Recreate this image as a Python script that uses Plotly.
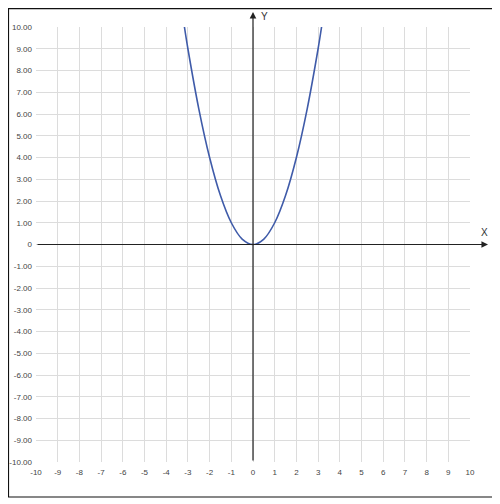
import plotly.graph_objects as go

# curve points
curve_x = [-3.16, -3.0, -2.5, -2.0, -1.5, -1.0, -0.5, 0.0, 0.5, 1.0, 1.5, 2.0, 2.5, 3.0, 3.16]
curve_y = [10.0, 9.0, 6.25, 4.0, 2.25, 1.0, 0.25, 0.0, 0.25, 1.0, 2.25, 4.0, 6.25, 9.0, 10.0]

x_ticks = list(range(-10, 11))
x_labels = [str(v) for v in x_ticks]
y_ticks = list(range(-10, 11))
y_labels = ["0" if v == 0 else "%.2f" % v for v in y_ticks]

axis_color = "#222222"
grid_color = "#dcdcdc"
tick_font = dict(family="Liberation Sans, Arial", size=8, color="#444444")

fig = go.Figure()
fig.add_trace(go.Scatter(
    x=curve_x, y=curve_y, mode="lines",
    line=dict(color="#3f5ba9", width=1.6, shape="spline"),
    hoverinfo="skip", showlegend=False,
))

fig.update_xaxes(
    range=[-10, 10], tickvals=x_ticks, ticktext=x_labels,
    showgrid=True, gridcolor=grid_color, gridwidth=1,
    zeroline=False, showline=False, ticks="", automargin=False,
    tickfont=tick_font, fixedrange=True, ticklabelstandoff=4,
)
fig.update_yaxes(
    range=[-10, 10], tickvals=y_ticks, ticktext=y_labels,
    showgrid=True, gridcolor=grid_color, gridwidth=1,
    zeroline=False, showline=False, ticks="", automargin=False,
    tickfont=tick_font, fixedrange=True, ticklabelstandoff=3,
)

# axes with arrowheads
fig.add_annotation(
    x=1.0415, y=0, xref="paper", yref="y", ax=-452, ay=0,
    showarrow=True, arrowhead=2, arrowsize=1.1, arrowwidth=1.2,
    arrowcolor=axis_color, standoff=0, text="",
)
fig.add_annotation(
    x=0, y=1.0345, xref="x", yref="paper", ax=0, ay=450,
    showarrow=True, arrowhead=2, arrowsize=1.1, arrowwidth=1.2,
    arrowcolor=axis_color, standoff=0, text="",
)
fig.add_annotation(
    x=1.046, y=0.55, xref="paper", yref="y", text="X", showarrow=False,
    font=dict(family="Liberation Sans, Arial", size=10, color="#333333"),
)
fig.add_annotation(
    x=0.55, y=1.042, xref="x", yref="paper", text="Y", showarrow=False,
    font=dict(family="Liberation Sans, Arial", size=10, color="#333333"),
)

# outer frame
fig.add_shape(
    type="rect", xref="paper", yref="paper",
    x0=-0.0634, x1=1.0553, y0=-0.0805, y1=1.0423,
    line=dict(color="#111111", width=1.2), fillcolor="rgba(0,0,0,0)",
)

fig.update_layout(
    width=492, height=496,
    margin=dict(l=28, r=30, t=19, b=42),
    plot_bgcolor="white", paper_bgcolor="white",
    showlegend=False,
)

fig.write_html("out.html")
